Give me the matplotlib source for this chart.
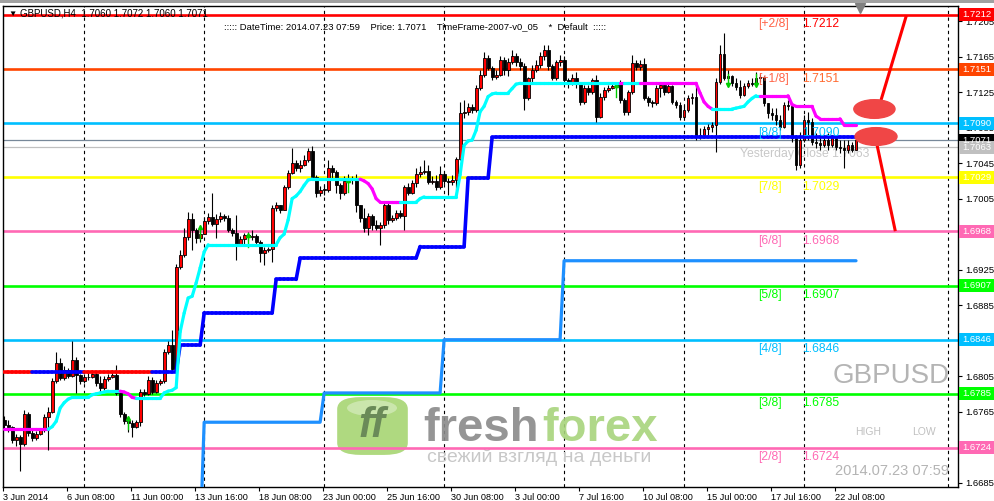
import numpy as np
import matplotlib
matplotlib.use("Agg")
import matplotlib.pyplot as plt
from matplotlib.collections import LineCollection
from matplotlib.patches import Ellipse, Rectangle, FancyBboxPatch

plt.rcParams['font.family'] = ['Liberation Sans', 'DejaVu Sans']

# ---------------- data (GBPUSD H4, 3 Jun - 23 Jul 2014) ----------------
first_open = 1.6756
closes = [1.6750, 1.6748, 1.6733, 1.6736, 1.6729, 1.6762, 1.6741, 1.6735, 1.6740, 1.6744,
          1.6759, 1.6765, 1.6800, 1.6820, 1.6803, 1.6812, 1.6805, 1.6823, 1.6806, 1.6800,
          1.6804, 1.6804, 1.6807, 1.6797, 1.6792, 1.6802, 1.6804, 1.6806, 1.6786, 1.6762,
          1.6754, 1.6752, 1.6748, 1.6753, 1.6787, 1.6785, 1.6801, 1.6787, 1.6797, 1.6800,
          1.6832, 1.6840, 1.6813, 1.6928, 1.6942, 1.6962, 1.6982, 1.6970, 1.6961, 1.6965,
          1.6980, 1.6984, 1.6976, 1.6982, 1.6985, 1.6983, 1.6970, 1.6966, 1.6954, 1.6960,
          1.6964, 1.6962, 1.6963, 1.6956, 1.6944, 1.6947, 1.6948, 1.6994, 1.6998, 1.6992,
          1.7018, 1.7034, 1.7045, 1.7040, 1.7043, 1.7049, 1.7059, 1.7029, 1.7011, 1.7015,
          1.7015, 1.7040, 1.7035, 1.7020, 1.7011, 1.7025, 1.7026, 1.7028, 1.6998, 1.6983,
          1.6972, 1.6985, 1.6975, 1.6972, 1.6975, 1.6998, 1.6981, 1.6983, 1.6989, 1.6985,
          1.7018, 1.7011, 1.7023, 1.7033, 1.7035, 1.7036, 1.7024, 1.7025, 1.7018, 1.7033,
          1.7025, 1.7024, 1.7026, 1.7050, 1.7102, 1.7103, 1.7108, 1.7105, 1.7130, 1.7144,
          1.7164, 1.7152, 1.7142, 1.7144, 1.7161, 1.7150, 1.7159, 1.7166, 1.7159, 1.7155,
          1.7118, 1.7141, 1.7150, 1.7156, 1.7166, 1.7173, 1.7155, 1.7141, 1.7159, 1.7161,
          1.7139, 1.7135, 1.7141, 1.7135, 1.7114, 1.7130, 1.7125, 1.7139, 1.7097, 1.7120,
          1.7127, 1.7130, 1.7132, 1.7134, 1.7116, 1.7103, 1.7125, 1.7158, 1.7153, 1.7157,
          1.7118, 1.7114, 1.7113, 1.7130, 1.7133, 1.7125, 1.7132, 1.7114, 1.7111, 1.7097,
          1.7105, 1.7118, 1.7120, 1.7075, 1.7077, 1.7084, 1.7086, 1.7088, 1.7136, 1.7168,
          1.7141, 1.7143, 1.7135, 1.7131, 1.7122, 1.7132, 1.7135, 1.7134, 1.7141, 1.7142,
          1.7113, 1.7102, 1.7099, 1.7094, 1.7086, 1.7111, 1.7109, 1.7073, 1.7043, 1.7071,
          1.7094, 1.7091, 1.7069, 1.7068, 1.7065, 1.7071, 1.7065, 1.7073, 1.7063, 1.7062,
          1.7060, 1.7065, 1.7060, 1.7071]
highs = [1.6760, 1.6756, 1.6749, 1.6740, 1.6739, 1.6767, 1.6765, 1.6744, 1.6743, 1.6747,
         1.6762, 1.6770, 1.6803, 1.6832, 1.6825, 1.6816, 1.6814, 1.6845, 1.6827, 1.6807,
         1.6807, 1.6810, 1.6812, 1.6810, 1.6805, 1.6805, 1.6807, 1.6812, 1.6818, 1.6789,
         1.6765, 1.6758, 1.6756, 1.6756, 1.6791, 1.6791, 1.6805, 1.6804, 1.6801, 1.6802,
         1.6836, 1.6845, 1.6857, 1.6931, 1.6947, 1.6972, 1.6990, 1.6989, 1.6972, 1.6972,
         1.6984, 1.6989, 1.7011, 1.6988, 1.6990, 1.6988, 1.6987, 1.6972, 1.6987, 1.6963,
         1.6966, 1.6967, 1.6970, 1.6965, 1.6958, 1.6951, 1.6951, 1.6998, 1.7001, 1.6998,
         1.7020, 1.7037, 1.7062, 1.7049, 1.7049, 1.7054, 1.7062, 1.7064, 1.7032, 1.7019,
         1.7020, 1.7049, 1.7043, 1.7037, 1.7023, 1.7031, 1.7033, 1.7031, 1.7033, 1.6998,
         1.6994, 1.6989, 1.6988, 1.6981, 1.6979, 1.7000, 1.7000, 1.6987, 1.6992, 1.6992,
         1.7020, 1.7023, 1.7026, 1.7040, 1.7042, 1.7049, 1.7043, 1.7031, 1.7032, 1.7042,
         1.7035, 1.7028, 1.7032, 1.7052, 1.7114, 1.7116, 1.7113, 1.7112, 1.7133, 1.7150,
         1.7170, 1.7167, 1.7155, 1.7150, 1.7166, 1.7165, 1.7164, 1.7173, 1.7169, 1.7164,
         1.7158, 1.7142, 1.7156, 1.7161, 1.7170, 1.7178, 1.7178, 1.7157, 1.7161, 1.7167,
         1.7166, 1.7141, 1.7146, 1.7148, 1.7136, 1.7133, 1.7133, 1.7141, 1.7144, 1.7124,
         1.7131, 1.7133, 1.7136, 1.7136, 1.7139, 1.7118, 1.7127, 1.7167, 1.7161, 1.7161,
         1.7164, 1.7121, 1.7116, 1.7133, 1.7136, 1.7136, 1.7136, 1.7133, 1.7116, 1.7114,
         1.7111, 1.7122, 1.7124, 1.7135, 1.7085, 1.7087, 1.7089, 1.7091, 1.7141, 1.7178,
         1.7192, 1.7150, 1.7144, 1.7141, 1.7139, 1.7135, 1.7139, 1.7141, 1.7148, 1.7146,
         1.7143, 1.7113, 1.7107, 1.7107, 1.7099, 1.7114, 1.7116, 1.7112, 1.7077, 1.7080,
         1.7099, 1.7103, 1.7096, 1.7079, 1.7077, 1.7077, 1.7079, 1.7077, 1.7077, 1.7071,
         1.7071, 1.7071, 1.7069, 1.7072]
lows = [1.6747, 1.6742, 1.6730, 1.6726, 1.6698, 1.6726, 1.6738, 1.6732, 1.6733, 1.6739,
        1.6742, 1.6722, 1.6763, 1.6797, 1.6801, 1.6801, 1.6803, 1.6804, 1.6786, 1.6796,
        1.6797, 1.6801, 1.6803, 1.6794, 1.6787, 1.6789, 1.6800, 1.6803, 1.6784, 1.6759,
        1.6751, 1.6742, 1.6736, 1.6747, 1.6749, 1.6783, 1.6784, 1.6785, 1.6786, 1.6795,
        1.6797, 1.6830, 1.6810, 1.6810, 1.6926, 1.6939, 1.6958, 1.6947, 1.6955, 1.6956,
        1.6966, 1.6976, 1.6974, 1.6961, 1.6979, 1.6980, 1.6967, 1.6963, 1.6936, 1.6952,
        1.6954, 1.6958, 1.6958, 1.6953, 1.6934, 1.6930, 1.6945, 1.6934, 1.6991, 1.6989,
        1.6992, 1.7016, 1.7033, 1.7036, 1.7035, 1.7042, 1.7046, 1.7026, 1.7007, 1.7008,
        1.7009, 1.7013, 1.7028, 1.7011, 1.7005, 1.7009, 1.7023, 1.7022, 1.6990, 1.6979,
        1.6967, 1.6964, 1.6970, 1.6970, 1.6953, 1.6972, 1.6976, 1.6979, 1.6981, 1.6983,
        1.6970, 1.7009, 1.7010, 1.7018, 1.7029, 1.7033, 1.7022, 1.7022, 1.7015, 1.7016,
        1.7022, 1.7009, 1.7020, 1.7015, 1.7049, 1.7096, 1.7099, 1.7102, 1.7103, 1.7127,
        1.7142, 1.7150, 1.7139, 1.7140, 1.7143, 1.7144, 1.7143, 1.7157, 1.7155, 1.7150,
        1.7105, 1.7116, 1.7136, 1.7148, 1.7152, 1.7161, 1.7150, 1.7139, 1.7139, 1.7155,
        1.7136, 1.7130, 1.7133, 1.7130, 1.7111, 1.7112, 1.7122, 1.7123, 1.7091, 1.7096,
        1.7116, 1.7125, 1.7129, 1.7130, 1.7113, 1.7099, 1.7099, 1.7123, 1.7150, 1.7150,
        1.7116, 1.7109, 1.7108, 1.7111, 1.7120, 1.7122, 1.7124, 1.7112, 1.7107, 1.7094,
        1.7096, 1.7103, 1.7112, 1.7071, 1.7072, 1.7073, 1.7077, 1.7080, 1.7058, 1.7134,
        1.7139, 1.7139, 1.7132, 1.7127, 1.7118, 1.7121, 1.7130, 1.7132, 1.7133, 1.7136,
        1.7109, 1.7096, 1.7094, 1.7088, 1.7082, 1.7085, 1.7105, 1.7069, 1.7037, 1.7040,
        1.7069, 1.7071, 1.7065, 1.7062, 1.7060, 1.7063, 1.7060, 1.7063, 1.7060, 1.7056,
        1.7040, 1.7056, 1.7058, 1.7060]

# trailing stop line (one value per bar), magenta where the segment is bearish
trail = ([1.6745] * 12 + [1.6748, 1.6754, 1.6769, 1.6775, 1.6779] + [1.6781] * 5
         + [1.6784, 1.6785, 1.6786, 1.6787] + [1.6788] * 4 + [1.6787, 1.6785, 1.6781]
         + [1.6780] * 7 + [1.6786, 1.6788, 1.6789, 1.6792, 1.6855, 1.6876, 1.6893, 1.6895,
                          1.6910, 1.6927, 1.6945] + [1.6953] * 18
         + [1.6961, 1.6965, 1.6981, 1.7005, 1.7008, 1.7013, 1.7020, 1.7026] + [1.7027] * 13
         + [1.7025, 1.7022, 1.7016, 1.7005] + [1.7001] * 10 + [1.7005] + [1.7007] * 9
         + [1.7032, 1.7065, 1.7070, 1.7071, 1.7082, 1.7103, 1.7109, 1.7120, 1.7123]
         + [1.7124] * 4 + [1.7129, 1.7134] + [1.7135] * 45 + [1.7124, 1.7114, 1.7109]
         + [1.7106] * 6 + [1.7107, 1.7108, 1.7109, 1.7114, 1.7118] + [1.7121] * 9
         + [1.7111] + [1.7109] * 5 + [1.7098] + [1.7095] * 6 + [1.7088] * 4)
trail_magenta = [(1, 11), (30, 33), (90, 99), (155, 155), (160, 177), (190, 213)]

# blue step line (with red stretches at the start)
blue_start = [0, 44, 50, 68, 74, 104, 116, 122]
blue_level = [1.6810, 1.6840, 1.6876, 1.6914, 1.6938, 1.6951, 1.7028, 1.7074]
blue_red = [(1, 7), (21, 37)]

# lower step line
low_start = [49, 50, 80, 110, 140]
low_level = [1.6620, 1.6753, 1.6786, 1.6846, 1.6935]

# Murrey math levels
mm_names = ['[+2/8]', '[+1/8]', '[8/8]', '[7/8]', '[6/8]', '[5/8]', '[4/8]', '[3/8]', '[2/8]']
mm_levels = [1.7212, 1.7151, 1.7090, 1.7029, 1.6968, 1.6907, 1.6846, 1.6785, 1.6724]
mm_colors = ['#ff0000', '#ff4500', '#00bfff', '#ffff00', '#ff69b4', '#00ff00', '#00bfff',
             '#00ff00', '#ff69b4']

bid = 1.7071
yesterday_close = 1.7063

price_ticks = [1.6685, 1.6725, 1.6765, 1.6805, 1.6845, 1.6885, 1.6925, 1.6965, 1.7005,
               1.7045, 1.7085, 1.7125, 1.7165, 1.7205]
hidden_ticks = [1.6725, 1.6845, 1.6965]   # covered by level boxes on the price scale
date_ticks = [0, 16, 32, 48, 64, 80, 96, 112, 128, 144, 160, 176, 192, 208]
date_labels = ['3 Jun 2014', '6 Jun 08:00', '11 Jun 00:00', '13 Jun 16:00', '18 Jun 08:00',
               '23 Jun 00:00', '25 Jun 16:00', '30 Jun 08:00', '3 Jul 00:00', '7 Jul 16:00',
               '10 Jul 08:00', '15 Jul 00:00', '17 Jul 16:00', '22 Jul 08:00']
grid_bars = [20, 50, 80, 110, 140, 170, 200, 236]

arrow_up_bars = [31, 49, 61, 86, 153]
arrow_up_price = [1.6758, 1.6973, 1.6964, 1.7026, 1.7133]
arrow_dn_bars = [181, 188]
arrow_dn_price = [1.7133, 1.7133]

trend_lines = [[(225.5, 1.7210), (219.25, 1.7116)], [(218.0, 1.7071), (222.75, 1.6970)]]
marks = [(217.6, 1.7106, 10.3, 0.0021), (218.0, 1.7075, 10.5, 0.0020)]

# ---------------- figure ----------------
fig = plt.figure(figsize=(9.95, 5.01), dpi=100)
ax = fig.add_axes([3 / 995, 14 / 501, 955 / 995, 481 / 501])
ax.set_xlim(-0.25, 238.5)
ax.set_ylim(1.66800, 1.72221)

n = len(closes)
x = np.arange(n)
c = np.array(closes)
o = np.array([first_open] + closes[:-1])
h = np.maximum(np.array(highs), np.maximum(o, c))
l = np.minimum(np.array(lows), np.minimum(o, c))

# grid
for g in grid_bars:
    ax.axvline(g, color='black', lw=0.8, ls=(0, (3, 3)), zorder=1)

# murrey lines
for lvl, col in zip(mm_levels, mm_colors):
    ax.axhline(lvl, color=col, lw=1.9, zorder=2)
ax.axhline(bid, color='#778899', lw=0.9, zorder=2)
ax.axhline(yesterday_close, color='#c0c0c0', lw=0.9, zorder=2)

# candles
ax.vlines(x, l, h, color='black', lw=0.8, zorder=3)
up = c >= o
body = np.maximum(np.abs(c - o), 0.00005)
bot = np.minimum(o, c)
ax.bar(x[up], body[up], bottom=bot[up], width=0.72, color='#ff0000', edgecolor='black',
       lw=0.6, zorder=4)
ax.bar(x[~up], body[~up], bottom=bot[~up], width=0.72, color='black', edgecolor='black',
       lw=0.6, zorder=4)

# fractal arrows
for b, p in zip(arrow_up_bars, arrow_up_price):
    ax.plot([b, b], [p - 0.0013, p], color='#00cc00', lw=1, zorder=5)
    ax.plot(b, p, marker='^', ms=3, color='#00cc00', zorder=5)
for b, p in zip(arrow_dn_bars, arrow_dn_price):
    ax.plot([b, b], [p, p + 0.0013], color='#00cc00', lw=1, zorder=5)
    ax.plot(b, p, marker='v', ms=3, color='#00cc00', zorder=5)


def in_runs(i, runs):
    return any(a <= i <= b for a, b in runs)


# blue step line
counts = np.diff(blue_start + [n])
blue = np.repeat(blue_level, counts)
segs = [[(i - 1, blue[i - 1]), (i, blue[i])] for i in range(1, n)]
cols = ['#ff0000' if in_runs(i, blue_red) else '#0000ff' for i in range(1, n)]
ax.add_collection(LineCollection(segs, colors=cols, lw=2.6, capstyle='round', zorder=6))

# lower step line
counts = np.diff(low_start + [n])
lowl = np.repeat(low_level, counts)
lx = np.arange(low_start[0], n)
ax.plot(lx, lowl, color='#1e90ff', lw=2.3, solid_capstyle='round', zorder=6)

# trailing line
segs = [[(i - 1, trail[i - 1]), (i, trail[i])] for i in range(1, n)]
cols = ['#ff00ff' if in_runs(i, trail_magenta) else '#00ffff' for i in range(1, n)]
ax.add_collection(LineCollection(segs, colors=cols, lw=2.3, capstyle='round', zorder=6))

# drawn objects
for (x0, y0), (x1, y1) in trend_lines:
    ax.plot([x0, x1], [y0, y1], color='#ff0000', lw=2.2, zorder=7)
for cx, cy, w, hh in marks:
    ax.add_patch(Ellipse((cx, cy), w, hh, color='#f04646', zorder=7))

# murrey labels
for name, lvl, col in zip(mm_names, mm_levels, mm_colors):
    tcol = '#ff6347' if name.startswith('[+') else col
    ax.annotate(name, (188.5, lvl), xytext=(0, -2.5), textcoords='offset points',
                va='top', ha='left', fontsize=8.8, color=tcol, zorder=8)
    ax.annotate(f'{lvl:.4f}', (199.5, lvl), xytext=(0, -2.5), textcoords='offset points',
                va='top', ha='left', fontsize=8.8, color=col if name != '[+1/8]' else '#ff6a30',
                zorder=8)


def at(xp, yp):
    return (xp - 3) / 955, (487 - yp) / 481


ax.text(*at(740, 154), f'Yesterday Close {yesterday_close:.4f}', transform=ax.transAxes,
        fontsize=8.8, color='#c8c8c8', va='center', zorder=2.5)

# watermark texts
ax.text(*at(950, 383), 'GBPUSD', transform=ax.transAxes, fontsize=20, color='#b4b4b4',
        ha='right', va='baseline', zorder=1)
ax.text(*at(855, 432), 'HIGH', transform=ax.transAxes, fontsize=7.5, color='#c0c0c0',
        va='center', zorder=1)
ax.text(*at(912, 432), 'LOW', transform=ax.transAxes, fontsize=7.5, color='#c0c0c0',
        va='center', zorder=1)
ax.text(*at(835, 471), '2014.07.23 07:59', transform=ax.transAxes, fontsize=10.5,
        color='#b4b4b4', va='center', clip_on=True, zorder=1)

# logo
ax.add_patch(FancyBboxPatch(at(341, 453), 63 / 955, 54 / 481, transform=ax.transAxes,
                            boxstyle='round,pad=0.004,rounding_size=0.025',
                            fc='#9bd060', ec='none', alpha=0.8, zorder=1))
ax.add_patch(Ellipse(at(372, 408), 50 / 955, 16 / 481, transform=ax.transAxes,
                     fc='white', alpha=0.35, zorder=1))
ax.text(*at(372, 426), 'ff', transform=ax.transAxes, fontsize=30, color='#6a8a58',
        fontweight='bold', style='italic', ha='center', va='center', zorder=1)
ax.text(*at(423, 441), 'fresh', transform=ax.transAxes, fontsize=34, color='#8a8a8a',
        fontweight='bold', va='baseline', alpha=0.9, zorder=1)
ax.text(*at(542, 441), 'forex', transform=ax.transAxes, fontsize=34, color='#a8d47c',
        fontweight='bold', va='baseline', alpha=0.9, zorder=1)
ax.text(*at(427, 462), 'свежий взгляд на деньги', transform=ax.transAxes, fontsize=14,
        color='#c8c8c8', va='baseline', zorder=1)

# chart shift marker
ax.plot(214, 1.7220, marker='v', ms=7, color='#808080', clip_on=False, zorder=9)

# axes styling
for s in ax.spines.values():
    s.set_color('black')
    s.set_linewidth(1)
ax.yaxis.tick_right()
ax.set_yticks(price_ticks)
ax.set_yticklabels(['' if p in hidden_ticks else f'{p:.4f}' for p in price_ticks],
                   fontsize=6.8)
ax.tick_params(axis='y', direction='out', length=3, width=0.8, pad=2)
ax.set_xticks([t - 0.3 for t in date_ticks])
ax.set_xticklabels(date_labels, fontsize=6.6, ha='left')
ax.tick_params(axis='x', direction='out', length=3, width=0.8, pad=1)

# right-side price boxes
fig.canvas.draw()
box_items = list(zip(mm_levels, mm_colors, ['white'] * len(mm_levels)))
box_items += [(bid, 'black', 'white'), (yesterday_close, '#c0c0c0', 'white')]
for p, bg, fg in box_items:
    yf = ax.transData.transform((0, p))[1] / 501
    fig.add_artist(Rectangle((959 / 995, yf - 6.5 / 501), 36 / 995, 13 / 501,
                             transform=fig.transFigure, fc=bg, ec='none', zorder=10))
    fig.text(962 / 995, yf, f'{p:.4f}', color=fg, fontsize=6.8, va='center', zorder=11)

# header texts
fig.add_artist(Rectangle((0, 498 / 501), 1, 3 / 501, transform=fig.transFigure,
                         fc='#a0a0a0', ec='none'))
fig.text(8 / 995, 1 - 14 / 501, '▼', fontsize=6, va='center', color='black')
fig.text(20 / 995, 1 - 14 / 501, 'GBPUSD,H4  1.7060 1.7072 1.7060 1.7071', fontsize=7,
         va='center', color='black')
fig.text(224 / 995, 1 - 27 / 501,
         '::::: DateTime: 2014.07.23 07:59    Price: 1.7071    TimeFrame-2007-v0_05    *  Default  :::::',
         fontsize=6.8, va='center', color='black')

fig.savefig('out.png', dpi=100)
